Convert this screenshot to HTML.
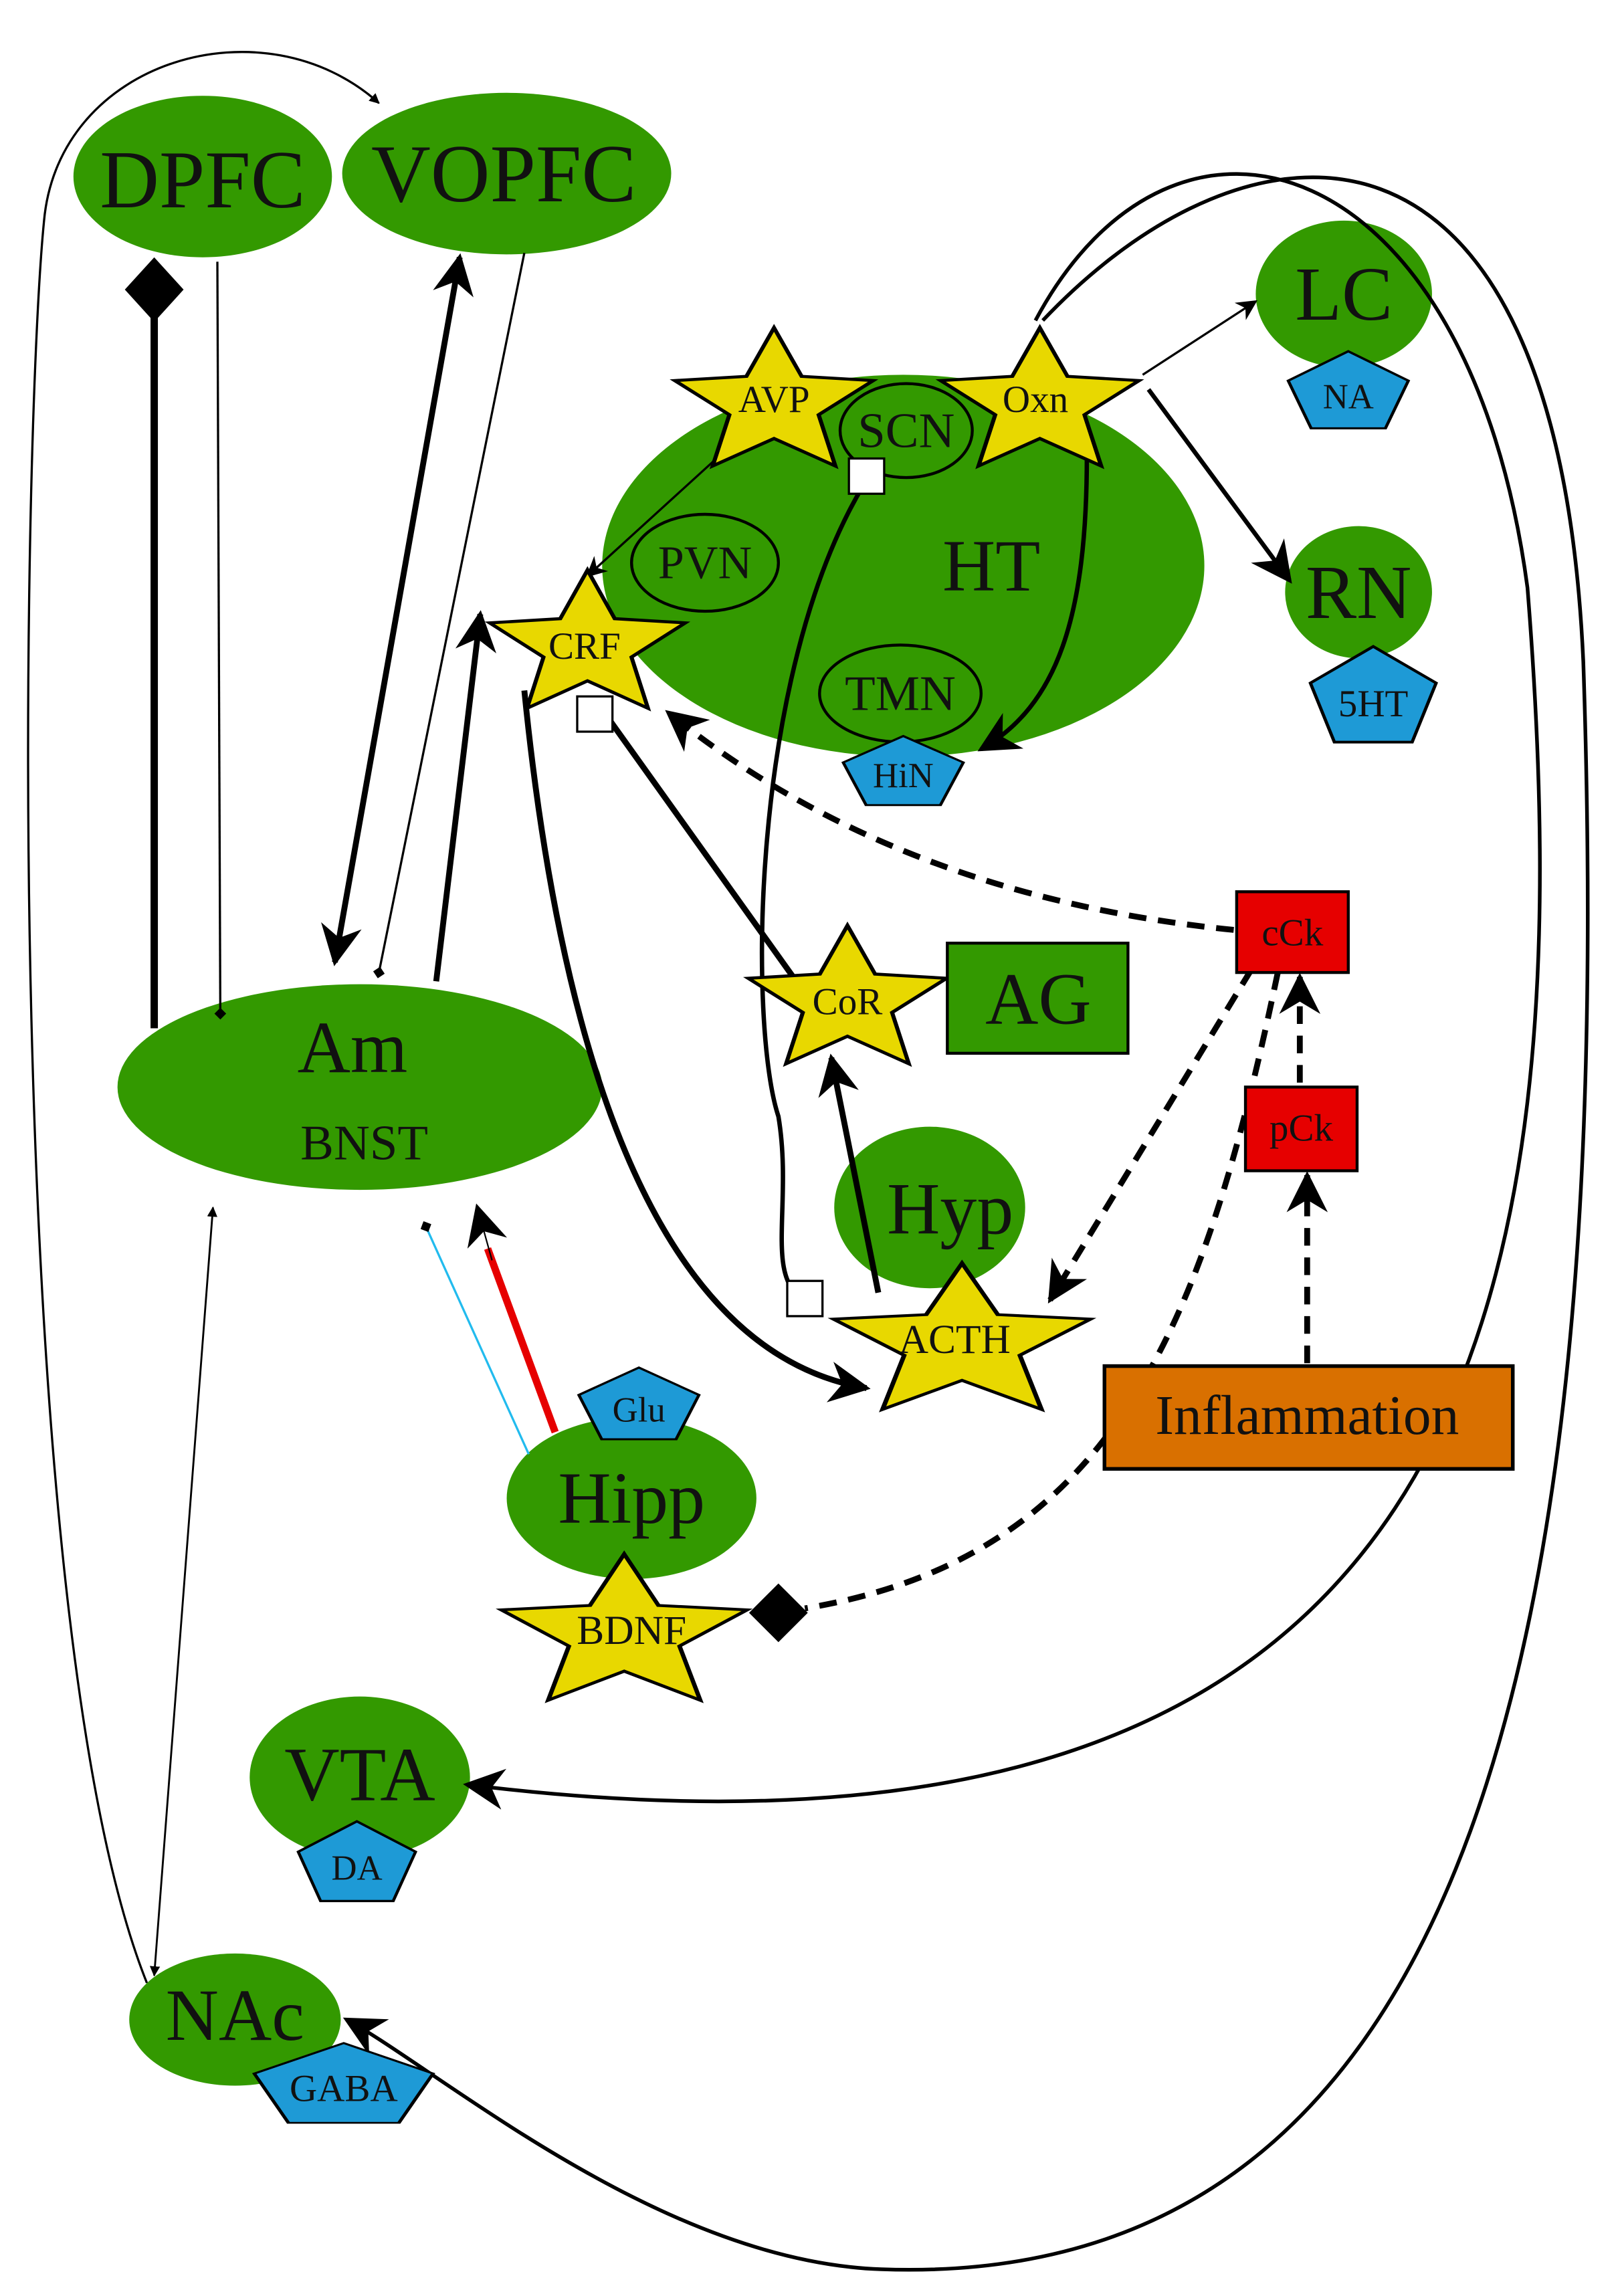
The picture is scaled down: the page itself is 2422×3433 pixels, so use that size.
<!DOCTYPE html>
<html><head><meta charset="utf-8"><style>
html,body{margin:0;padding:0;background:#fff}
svg{display:block}
text{font-family:"Liberation Serif",serif;text-anchor:middle;dominant-baseline:central;fill:#111}
</style></head><body>
<svg width="2422" height="3433" viewBox="0 0 1103 1563" xmlns="http://www.w3.org/2000/svg">
<defs>
<marker id="ah" viewBox="0 0 10 10" refX="9" refY="5" markerWidth="7" markerHeight="7" markerUnits="userSpaceOnUse" orient="auto-start-reverse"><path d="M0,0 L10,5 L0,10 z" fill="#000"/></marker>
<marker id="big" viewBox="0 0 10 10" refX="9" refY="5" markerWidth="34" markerHeight="28" markerUnits="userSpaceOnUse" orient="auto-start-reverse"><path d="M0,0 L10,5 L0,10 L3,5 z" fill="#000"/></marker>
<marker id="mid" viewBox="0 0 10 10" refX="9" refY="5" markerWidth="18" markerHeight="14" markerUnits="userSpaceOnUse" orient="auto-start-reverse"><path d="M0,0 L10,5 L0,10 L3,5 z" fill="#000"/></marker>
<marker id="dia" viewBox="0 0 10 10" refX="5" refY="5" markerWidth="8" markerHeight="8" markerUnits="userSpaceOnUse" orient="auto"><path d="M0,5 L5,0 L10,5 L5,10 z" fill="#000"/></marker>
<polygon id="star" points="0,-1 0.265,-0.364 0.951,-0.309 0.428,0.139 0.588,0.809 0,0.45 -0.588,0.809 -0.428,0.139 -0.951,-0.309 -0.265,-0.364"/>
<polygon id="pent" points="0,-1 0.951,-0.309 0.588,0.809 -0.588,0.809 -0.951,-0.309"/>
</defs>

<g fill="#339900">
<ellipse cx="138" cy="120" rx="88" ry="55"/>
<ellipse cx="345" cy="118" rx="112" ry="55"/>
<ellipse cx="915" cy="200" rx="60" ry="50"/>
<ellipse cx="925" cy="403" rx="50" ry="45"/>
<ellipse cx="615" cy="385" rx="205" ry="130"/>
<ellipse cx="245" cy="740" rx="165" ry="70"/>
<ellipse cx="633" cy="822" rx="65" ry="55"/>
<ellipse cx="430" cy="1020" rx="85" ry="55"/>
<ellipse cx="245" cy="1210" rx="75" ry="55"/>
<ellipse cx="160" cy="1375" rx="72" ry="45"/>
</g>
<g fill="none" stroke="#000" stroke-width="2">
<ellipse cx="617" cy="293" rx="45" ry="32"/>
<ellipse cx="480" cy="383" rx="50" ry="33"/>
<ellipse cx="613" cy="472" rx="55" ry="33"/>
</g>

<g fill="none" stroke="#000">
<path d="M100 1350 C0 1100 15 300 30 150 C40 40 180 0 258 70" stroke-width="1.5" marker-end="url(#ah)"/>
<path d="M145 822 L105 1345" stroke-width="1.3" marker-start="url(#ah)" marker-end="url(#ah)"/>
<path d="M105 205 L105 700" stroke-width="5"/>
<path d="M148 178 L150 690" stroke-width="1.5" marker-end="url(#dia)"/>
<path d="M313 175 L228 655" stroke-width="4" marker-start="url(#big)" marker-end="url(#big)"/>
<path d="M357 172 L258 662" stroke-width="1.5" marker-end="url(#dia)"/>
<path d="M297 668 L327 418" stroke-width="4" marker-end="url(#big)"/>
<path d="M490 310 L400 392" stroke-width="1.5" marker-end="url(#mid)"/>
<path d="M357 470 C380 700 440 920 590 945" stroke-width="4" marker-end="url(#big)"/>
<path d="M415 490 L540 665" stroke-width="4"/>
<path d="M840 633 Q610 610 455 485" stroke-width="4" stroke-dasharray="12,8" marker-end="url(#big)"/>
<path d="M588 330 C510 460 510 700 530 760 C540 820 520 870 548 885" stroke-width="3"/>
<path d="M740 310 C740 420 720 480 668 510" stroke-width="3" marker-end="url(#big)"/>
<path d="M778 255 L855 205" stroke-width="1.5" marker-end="url(#mid)"/>
<path d="M782 265 L878 395" stroke-width="3" marker-end="url(#big)"/>
<path d="M705 218 C800 40 1000 100 1040 400 C1080 900 1000 1300 318 1215" stroke-width="2.5" marker-end="url(#big)"/>
<path d="M710 218 C850 70 1060 50 1078 450 C1100 1100 1010 1560 600 1545 C450 1540 300 1410 236 1375" stroke-width="2.5" marker-end="url(#big)"/>
<path d="M598 880 L566 720" stroke-width="4" marker-end="url(#big)"/>
<path d="M852 660 L715 885" stroke-width="4" stroke-dasharray="12,8" marker-end="url(#big)"/>
<path d="M870 662 C820 900 760 1060 548 1095" stroke-width="4" stroke-dasharray="12,8"/>
<path d="M885 737 L885 665" stroke-width="4" stroke-dasharray="12,8" marker-end="url(#big)"/>
<path d="M890 928 L890 800" stroke-width="4" stroke-dasharray="12,8" marker-end="url(#big)"/>
<path d="M360 990 L290 835" stroke="#22bbee" stroke-width="1.5" marker-end="url(#dia)"/>
<path d="M378 975 L332 850" stroke="#e60000" stroke-width="5"/>
<path d="M335 858 L325 822" stroke-width="1" marker-end="url(#big)"/>
</g>
<path d="M105 175 L125 197 L105 219 L85 197 z" fill="#000"/>
<path d="M530 1078 L550 1098 L530 1118 L510 1098 z" fill="#000"/>
<g fill="#fff" stroke="#000" stroke-width="1.5">
<rect x="578" y="312" width="24" height="24"/>
<rect x="393" y="474" width="24" height="24"/>
<rect x="536" y="872" width="24" height="24"/>
</g>

<g fill="#e8d800" stroke="#000">
<use href="#star" transform="translate(527,275) scale(71,52)" stroke-width="0.04"/>
<use href="#star" transform="translate(708,275) scale(71,52)" stroke-width="0.04"/>
<use href="#star" transform="translate(400,440) scale(70,52)" stroke-width="0.04"/>
<use href="#star" transform="translate(577,682) scale(71,52)" stroke-width="0.04"/>
<use href="#star" transform="translate(655,915) scale(92,55)" stroke-width="0.035"/>
<use href="#star" transform="translate(425,1113) scale(88,55)" stroke-width="0.035"/>
</g>
<g fill="#1e9ad6" stroke="#000">
<use href="#pent" transform="translate(918,268) scale(43,29)" stroke-width="0.05"/>
<use href="#pent" transform="translate(935,476) scale(45,36)" stroke-width="0.05"/>
<use href="#pent" transform="translate(615,527) scale(43,26)" stroke-width="0.05"/>
<use href="#pent" transform="translate(435,958) scale(43,27)" stroke-width="0.05"/>
<use href="#pent" transform="translate(243,1270) scale(42,30)" stroke-width="0.05"/>
<use href="#pent" transform="translate(234,1421) scale(64,30)" stroke-width="0.04"/>
</g>
<rect x="645" y="642" width="123" height="75" fill="#339900" stroke="#000" stroke-width="2"/>
<rect x="842" y="607" width="76" height="55" fill="#e60000" stroke="#000" stroke-width="2"/>
<rect x="848" y="740" width="76" height="57" fill="#e60000" stroke="#000" stroke-width="2"/>
<rect x="752" y="930" width="278" height="70" fill="#d97000" stroke="#000" stroke-width="2.5"/>

<text x="138" y="122" font-size="56">DPFC</text>
<text x="343" y="118" font-size="56">VOPFC</text>
<text x="915" y="200" font-size="52">LC</text>
<text x="925" y="403" font-size="52">RN</text>
<text x="675" y="385" font-size="50">HT</text>
<text x="617" y="293" font-size="34">SCN</text>
<text x="480" y="383" font-size="32">PVN</text>
<text x="613" y="472" font-size="34">TMN</text>
<text x="240" y="713" font-size="50">Am</text>
<text x="248" y="778" font-size="34">BNST</text>
<text x="707" y="680" font-size="50">AG</text>
<text x="647" y="823" font-size="50">Hyp</text>
<text x="430" y="1020" font-size="50">Hipp</text>
<text x="245" y="1208" font-size="52">VTA</text>
<text x="160" y="1372" font-size="50">NAc</text>
<text x="890" y="964" font-size="38">Inflammation</text>
<text x="880" y="635" font-size="26">cCk</text>
<text x="886" y="768" font-size="26">pCk</text>
<text x="527" y="272" font-size="26">AVP</text>
<text x="705" y="272" font-size="26">Oxn</text>
<text x="398" y="440" font-size="26">CRF</text>
<text x="577" y="682" font-size="26">CoR</text>
<text x="650" y="912" font-size="28">ACTH</text>
<text x="430" y="1110" font-size="28">BDNF</text>
<text x="918" y="270" font-size="24">NA</text>
<text x="935" y="479" font-size="26">5HT</text>
<text x="615" y="528" font-size="24">HiN</text>
<text x="435" y="960" font-size="24">Glu</text>
<text x="243" y="1272" font-size="24">DA</text>
<text x="234" y="1422" font-size="26">GABA</text>
</svg>
</body></html>
